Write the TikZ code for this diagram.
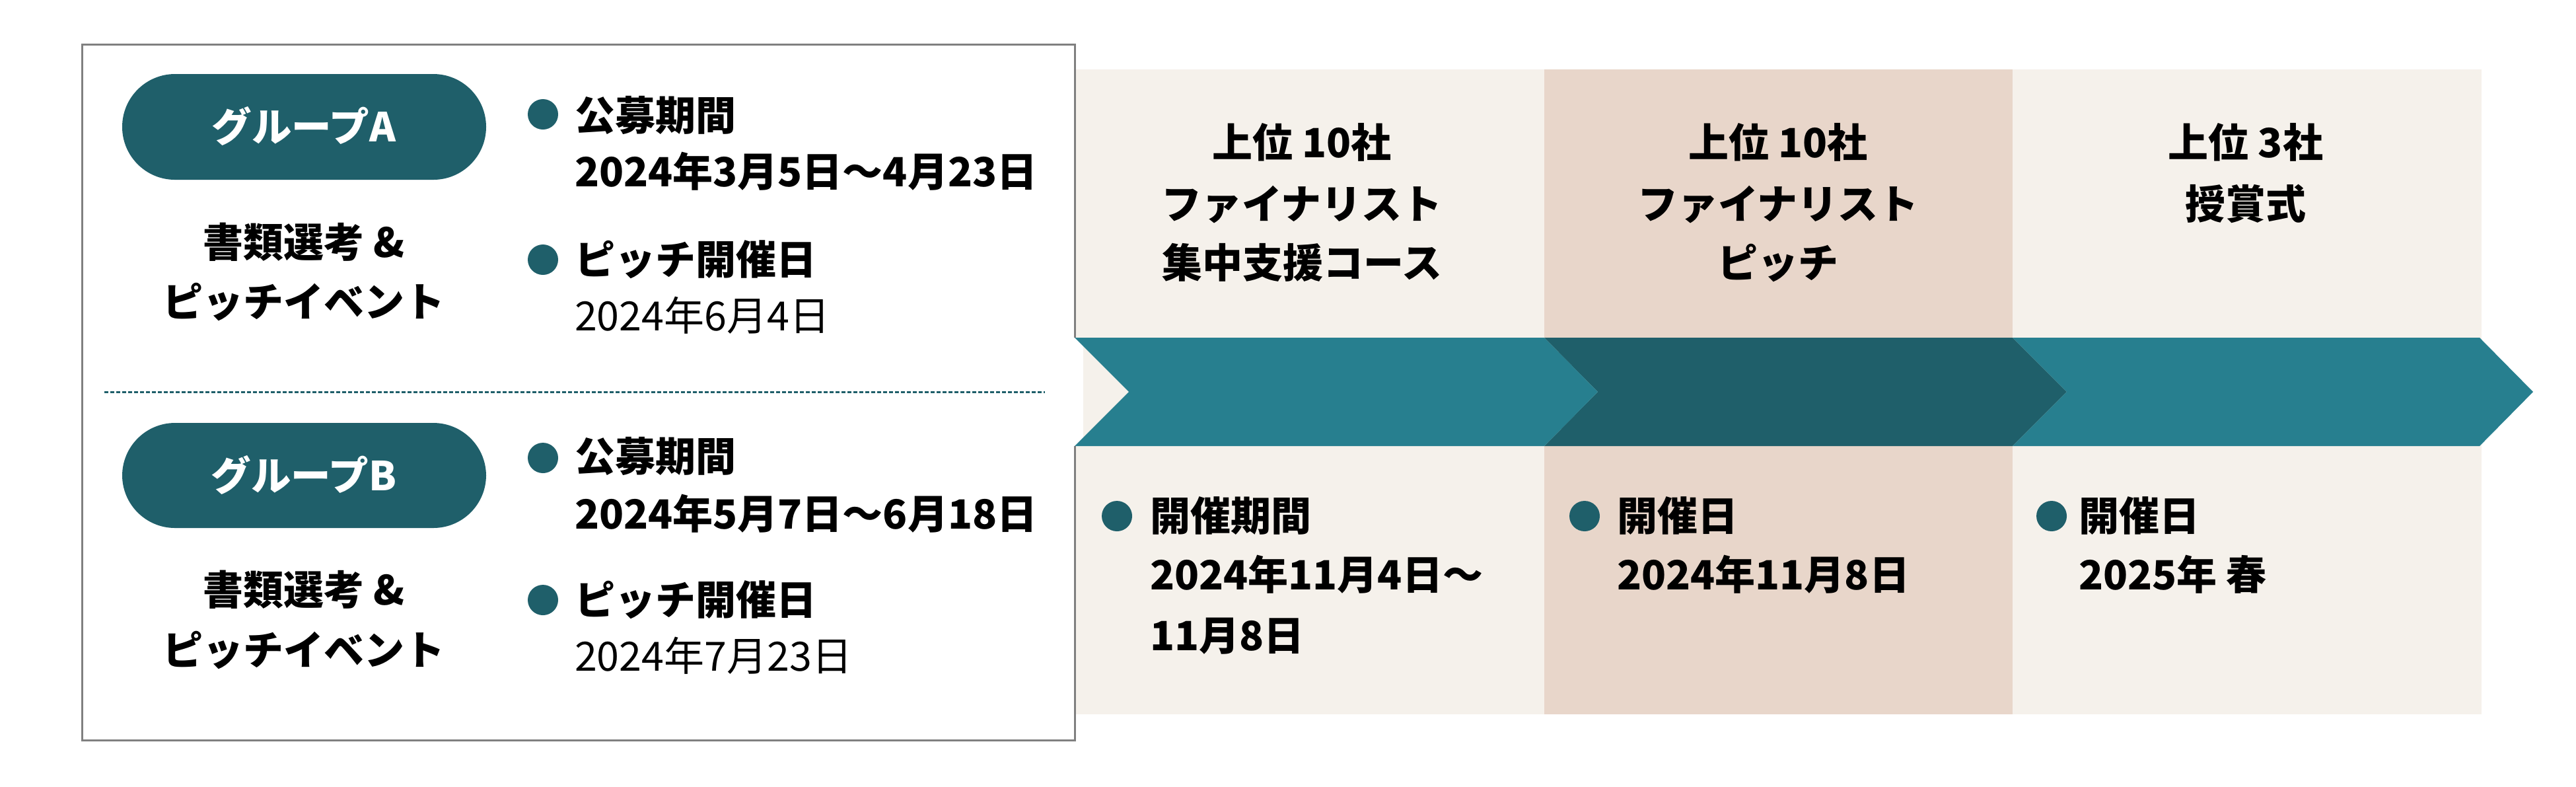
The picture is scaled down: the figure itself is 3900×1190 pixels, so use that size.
\documentclass[tikz,border=0pt]{standalone}
\usepackage{fontspec}
\newfontfamily\jp{Noto Sans CJK JP}
\definecolor{tealdark}{HTML}{1F5F6A}
\definecolor{teallight}{HTML}{277F8F}
\definecolor{beige}{HTML}{F5F1EB}
\definecolor{beigedark}{HTML}{E8D6CA}
\definecolor{bordergray}{HTML}{808080}
\begin{document}
\begin{tikzpicture}[x=0.2pt,y=-0.2pt,
  bt/.style={inner sep=0pt, font=\jp\bfseries\fontsize{12.2}{14}\selectfont, text=black},
  rt/.style={inner sep=0pt, font=\jp\fontsize{12.2}{14}\selectfont, text=black},
  pilltxt/.style={inner sep=0pt, font=\jp\bfseries\fontsize{12.1}{14}\selectfont, text=white},
  dot/.style={circle, fill=tealdark, minimum size=9.2pt, inner sep=0pt},
  pill/.style={fill=tealdark, rounded corners=16pt}]
\useasboundingbox (0,0) rectangle (3900,1190);
\fill[white] (0,0) rectangle (3900,1190);
% panels
\fill[beige] (1627,105) rectangle (2338,1081);
\fill[beigedark] (2338,105) rectangle (3047,1081);
\fill[beige] (3047,105) rectangle (3757,1081);
% left box
\draw[bordergray, line width=0.6pt, fill=white] (124,67) rectangle (1627,1120);
% band
\fill[white] (1615,511) rectangle (1640,675);
\fill[tealdark] (2338,511) -- (3047,511) -- (3129,593) -- (3047,675) -- (2338,675) -- (2419,593) -- cycle;
\fill[teallight] (1627,511) -- (2338,511) -- (2419,593) -- (2338,675) -- (1627,675) -- (1709,593) -- cycle;
\fill[teallight] (3047,511) -- (3754,511) -- (3835,593) -- (3754,675) -- (3047,675) -- (3129,593) -- cycle;
% dashed separator
\draw[tealdark, line width=0.6pt, dash pattern=on 1.2pt off 0.6pt] (158,593) -- (1582,593);
% group A
\fill[pill] (185,112) rectangle (736,272);
\node[pilltxt, anchor=base] (gA) at (460,214) {グループA};
\node[bt, anchor=base] (sA1) at (460,389) {書類選考 \&};
\node[bt, anchor=base] (sA2) at (460,479) {ピッチイベント};
\node[dot] (dA1) at (822,173) {};
\node[bt, anchor=base west] (tA1) at (869,197) {公募期間};
\node[bt, anchor=base west] (tA2) at (869,282) {2024年3月5日〜4月23日};
\node[dot] (dA2) at (822,393) {};
\node[bt, anchor=base west] (tA3) at (869,415) {ピッチ開催日};
\node[rt, anchor=base west] (tA4) at (869,500) {2024年6月4日};
% group B
\fill[pill] (185,640) rectangle (736,799);
\node[pilltxt, anchor=base] (gB) at (460,742) {グループB};
\node[bt, anchor=base] (sB1) at (460,915) {書類選考 \&};
\node[bt, anchor=base] (sB2) at (460,1006) {ピッチイベント};
\node[dot] (dB1) at (822,693) {};
\node[bt, anchor=base west] (tB1) at (869,713) {公募期間};
\node[bt, anchor=base west] (tB2) at (869,800) {2024年5月7日〜6月18日};
\node[dot] (dB2) at (822,908) {};
\node[bt, anchor=base west] (tB3) at (869,930) {ピッチ開催日};
\node[rt, anchor=base west] (tB4) at (869,1015) {2024年7月23日};
% headers
\node[bt, anchor=base] (h11) at (1971,238) {上位 10社};
\node[bt, anchor=base] (h12) at (1971,331) {ファイナリスト};
\node[bt, anchor=base] (h13) at (1971,420) {集中支援コース};
\node[bt, anchor=base] (h21) at (2692,238) {上位 10社};
\node[bt, anchor=base] (h22) at (2692,331) {ファイナリスト};
\node[bt, anchor=base] (h23) at (2692,420) {ピッチ};
\node[bt, anchor=base] (h31) at (3400,238) {上位 3社};
\node[bt, anchor=base] (h32) at (3400,331) {授賞式};
% bottom items
\node[dot] (d1) at (1691,781) {};
\node[bt, anchor=base west] (b11) at (1740,803) {開催期間};
\node[bt, anchor=base west] (b12) at (1740,892) {2024年11月4日〜};
\node[bt, anchor=base west] (b13) at (1740,984) {11月8日};
\node[dot] (d2) at (2399,781) {};
\node[bt, anchor=base west] (b21) at (2447,803) {開催日};
\node[bt, anchor=base west] (b22) at (2447,892) {2024年11月8日};
\node[dot] (d3) at (3106,781) {};
\node[bt, anchor=base west] (b31) at (3146,803) {開催日};
\node[bt, anchor=base west] (b32) at (3146,892) {2025年 春};
\end{tikzpicture}
\end{document}
